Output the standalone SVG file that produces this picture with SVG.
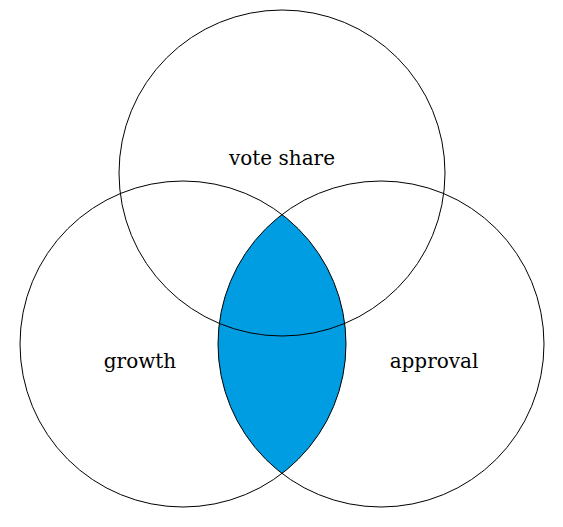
<svg xmlns="http://www.w3.org/2000/svg" width="563" height="527" viewBox="0 0 563 527">
<style>
.c{fill:none;stroke:#000;stroke-width:1}
.t{font-family:"DejaVu Serif","Liberation Serif",serif;font-size:20px;fill:#000;text-anchor:middle}
</style>
<rect width="563" height="527" fill="#fff"/>
<g id="lens">
<path d="M282 214.5 A163 163 0 0 1 282 473.5 A163 163 0 0 1 282 214.5 Z" fill="#009de3"/>
</g>
<g id="vote-share">
<circle class="c" cx="282" cy="173" r="163"/>
<text class="t" x="282" y="165">vote share</text>
</g>
<g id="growth">
<circle class="c" cx="183" cy="344" r="163"/>
<text class="t" x="140" y="368">growth</text>
</g>
<g id="approval">
<circle class="c" cx="381" cy="344" r="163"/>
<text class="t" x="434" y="368">approval</text>
</g>
</svg>
